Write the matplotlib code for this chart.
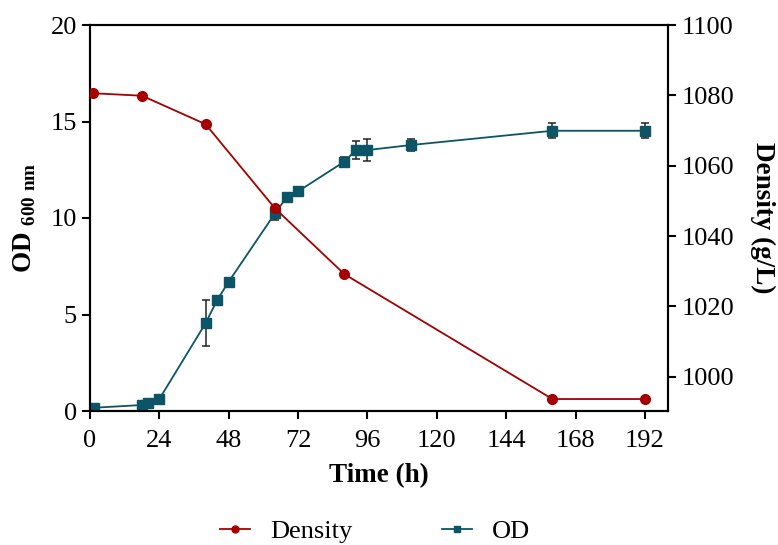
import matplotlib

matplotlib.use("Agg")
import matplotlib.pyplot as plt  # noqa: E402
from matplotlib.lines import Line2D  # noqa: E402

# density time course (right axis)
dens_t = [1, 18, 40, 64, 88, 160, 192]
dens_v = [1080.6, 1079.9, 1071.8, 1047.9, 1029.2, 993.7, 993.7]

# OD600 time course (left axis) with error bars
od_t = [1.5, 18, 20, 24, 40, 44, 48, 64, 68, 72, 88, 92, 96, 111, 160, 192]
od_v = [0.17, 0.31, 0.40, 0.62, 4.55, 5.75, 6.7, 10.24, 11.07, 11.38, 12.92,
        13.52, 13.52, 13.78, 14.52, 14.52]
od_err = [0.05, 0.05, 0.05, 0.05, 1.2, 0.1, 0.1, 0.35, 0.15, 0.22, 0.22,
          0.45, 0.55, 0.3, 0.38, 0.38]

x_ticks = [0, 24, 48, 72, 96, 120, 144, 168, 192]

RED = "#A50000"
TEAL = "#0B5567"

plt.rcParams["font.family"] = ["Liberation Serif", "DejaVu Serif"]
plt.rcParams["mathtext.fontset"] = "custom"
plt.rcParams["mathtext.rm"] = "Liberation Serif"
plt.rcParams["mathtext.bf"] = "Liberation Serif:bold"

fig = plt.figure(figsize=(7.78, 5.45), dpi=100, facecolor="white")
ax = fig.add_axes([90 / 778, 1 - 411 / 545, 578 / 778, 386 / 545])
ax2 = ax.twinx()

ax.errorbar(od_t, od_v, yerr=od_err, color=TEAL, marker="s", ms=7,
            lw=1.3, ecolor="#222222", elinewidth=1.1, capsize=3,
            capthick=1.1, zorder=3)
ax2.plot(dens_t, dens_v, color=RED, marker="o", ms=7, lw=1.3, zorder=4)

ax.set_xlim(0, 200)
ax.set_ylim(0, 20)
ax.set_yticks([0, 5, 10, 15, 20])
ax.set_xticks(x_ticks)
ax2.set_ylim(990.3, 1100)
ax2.set_yticks([1000, 1020, 1040, 1060, 1080, 1100])

for a in (ax, ax2):
    for s in a.spines.values():
        s.set_linewidth(1.5)
    a.tick_params(direction="out", length=6, width=1.5, labelsize=19)
ax.tick_params(axis="x", pad=8)

ax.set_xlabel("Time (h)", fontsize=19.5, fontweight="bold", labelpad=8)
ax.set_ylabel(r"OD $_{\mathbf{600\ nm}}$", fontsize=19.5, fontweight="bold",
              labelpad=9)
ax2.set_ylabel("Density (g/L)", fontsize=19.5, fontweight="bold",
               rotation=-90, labelpad=30)

handles = [Line2D([], [], color=RED, marker="o", ms=5, lw=1.3),
           Line2D([], [], color=TEAL, marker="s", ms=5, lw=1.3)]
fig.legend(handles, ["Density", "OD"], loc="center",
           bbox_to_anchor=(0.482, 0.025), ncol=2, frameon=False, fontsize=19,
           handlelength=1.15, handletextpad=0.75, columnspacing=3.4)

fig.savefig("out.png", dpi=100)
